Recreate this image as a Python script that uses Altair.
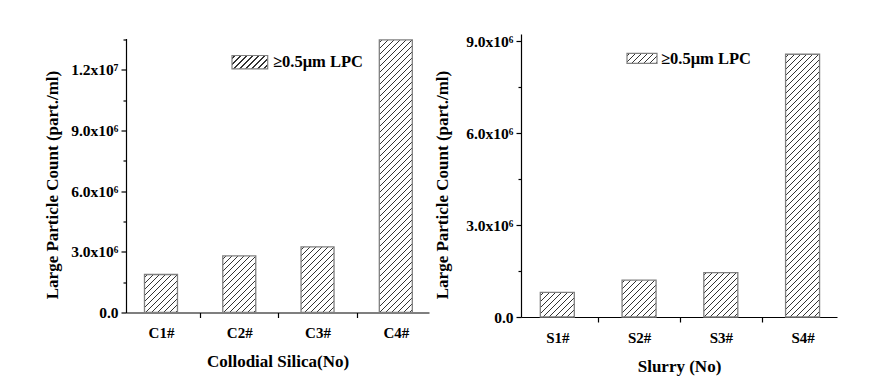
import json
import altair as alt
import pandas as pd

# ---------------- data ----------------
left_categories = ["C1#", "C2#", "C3#", "C4#"]
left_values = [1.88e6, 2.80e6, 3.25e6, 13.48e6]
right_categories = ["S1#", "S2#", "S3#", "S4#"]
right_values = [0.80e6, 1.20e6, 1.45e6, 8.57e6]
left_y_labels = ["0.0", "3.0x10⁶", "6.0x10⁶", "9.0x10⁶", "1.2x10⁷"]
right_y_labels = ["0.0", "3.0x10⁶", "6.0x10⁶", "9.0x10⁶"]
legend_text = ["≥0.5μm LPC"]
y_title = "Large Particle Count (part./ml)"
left_x_title = "Collodial Silica(No)"
right_x_title = "Slurry (No)"

FONT = "Liberation Serif"


def hatch(w, h, spacing=6.0, lw=1.1, ink="#333333", paper="#ffffff"):
    """Diagonal '////' hatching as a hard-stop linear gradient (bbox units)."""
    L = w + h
    t = L / (w * w + h * h)
    stops = [{"offset": 0, "color": paper}]
    p = spacing * 0.5
    while p + lw / 2 < L:
        a = round((p - lw / 2) / L, 6)
        b = round((p + lw / 2) / L, 6)
        stops += [
            {"offset": a, "color": paper},
            {"offset": a, "color": ink},
            {"offset": b, "color": ink},
            {"offset": b, "color": paper},
        ]
        p += spacing
    stops.append({"offset": 1, "color": paper})
    return {"gradient": "linear", "x1": 0, "y1": 0,
            "x2": round(t * w, 6), "y2": round(t * h, 6), "stops": stops}


def panel(cats, vals, ylabels, ymax, W, H, bar_w, xtitle, extent, tpad,
          leg_box, leg_txt):
    df = pd.DataFrame({"pos": list(range(1, len(cats) + 1)),
                       "cat": cats, "val": vals})
    xscale = alt.Scale(domain=[0.617, 4.36], nice=False, zero=False)
    yscale = alt.Scale(domain=[0, ymax], nice=False, zero=True)
    minor = 1.5e6
    yvals = [i * minor for i in range(int(ymax // minor) + 1)]
    xvals = [1, 1.5, 2, 2.5, 3, 3.5, 4]
    xlabel_expr = ("datum.value % 1 === 0 ? " + json.dumps(cats)
                   + "[datum.value - 1] : ''")
    ylabel_expr = ("datum.value % 3000000 === 0 ? "
                   + json.dumps(ylabels, ensure_ascii=False)
                   + "[round(datum.value / 3000000)] : ''")
    xaxis = alt.Axis(values=xvals, labelExpr=xlabel_expr, grid=False,
                     tickOpacity={"condition": {"test": "datum.value % 1 === 0", "value": 0}, "value": 1},
                     tickSize=5, labelPadding=8, labelFontSize=15,
                     labelAngle=0, title=xtitle, titlePadding=13)
    yaxis = alt.Axis(values=yvals, labelExpr=ylabel_expr, grid=False,
                     tickSize={"condition": {"test": "datum.value % 3000000 !== 0", "value": 3}, "value": 5},
                     labelPadding=3, labelFontSize=15.5,
                     minExtent=extent, maxExtent=extent,
                     title=y_title, titlePadding=tpad, titleY=H / 2 + 9)
    layers = []
    for p, v in zip(df["pos"], df["val"]):
        h = v / ymax * H
        layers.append(
            alt.Chart(df).transform_filter(alt.datum.pos == int(p))
            .mark_bar(width=bar_w, fill=hatch(bar_w, h), stroke="#808080",
                      strokeWidth=1.3)
            .encode(x=alt.X("pos:Q", scale=xscale, axis=xaxis),
                    y=alt.Y("val:Q", scale=yscale, axis=yaxis))
        )
    x0, y0, x1, y1 = leg_box
    ldf = pd.DataFrame({"t": legend_text})
    layers.append(
        alt.Chart(ldf).mark_rect(fill=hatch(x1 - x0, y1 - y0), stroke="#808080",
                                 strokeWidth=1.2)
        .encode(x=alt.value(x0), x2=alt.value(x1), y=alt.value(y0), y2=alt.value(y1))
    )
    layers.append(
        alt.Chart(ldf).mark_text(align="left", baseline="middle", font=FONT,
                                 fontSize=16.5, fontWeight="bold", color="black")
        .encode(x=alt.value(leg_txt[0]), y=alt.value(leg_txt[1]), text="t:N")
    )
    return alt.layer(*layers).properties(width=W, height=H)


left = panel(left_categories, left_values, left_y_labels, 1.355e7, 303, 274, 33,
             left_x_title, 59, 6, (106, 17, 141.7, 30.3), (147, 23.5))
right = panel(right_categories, right_values, right_y_labels, 9.23e6, 316, 283, 34,
              right_x_title, 62, 8, (106, 19.3, 136, 29.3), (140, 24.5))

chart = (
    alt.hconcat(left, right, spacing=4, center=True)
    .properties(padding={"left": 35, "top": 26, "right": 5, "bottom": 5})
    .configure_view(strokeWidth=0)
    .configure_axis(domainColor="black", domainWidth=1.2, tickColor="black",
                    tickWidth=1.2, labelColor="black", titleColor="black",
                    labelFont=FONT, titleFont=FONT, labelFontWeight="bold",
                    titleFontWeight="bold", titleFontSize=17)
)

chart.save("out.html", embed_options={"renderer": "svg", "actions": False})
